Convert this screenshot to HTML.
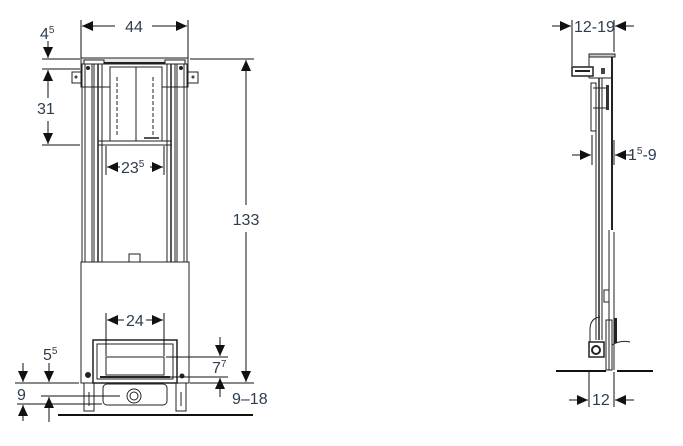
<!DOCTYPE html>
<html><head><meta charset="utf-8"><style>
html,body{margin:0;padding:0;background:#fff;}
svg{display:block;}
text{font-family:"Liberation Sans",sans-serif;font-size:16px;fill:#2e3d4f;}
</style></head><body>
<svg width="683" height="446" viewBox="0 0 683 446" xmlns="http://www.w3.org/2000/svg">
<defs>
<marker id="a" markerUnits="userSpaceOnUse" markerWidth="12" markerHeight="11" refX="11" refY="5" orient="auto-start-reverse"><path d="M0,0 L11,5 L0,10 z" fill="#111"/></marker>
</defs>
<!-- front frame -->
<g stroke="#222" stroke-width="1" fill="none">
<rect x="81" y="58" width="107" height="6" fill="#e8e8e8"/>
<rect x="84" y="60" width="20" height="4" fill="#fff"/><rect x="165" y="60" width="20" height="4" fill="#fff"/>
<line x1="104" y1="63" x2="165" y2="63" stroke-width="2"/>
<rect x="72" y="72" width="9" height="11" fill="#fff"/><rect x="188" y="72" width="10" height="11" fill="#fff"/>
<circle cx="76" cy="77" r="1"/><circle cx="193" cy="77" r="1"/>
<rect x="81" y="64" width="107" height="23"/>
<rect x="110" y="67" width="52" height="74" fill="#fff"/>
<line x1="136" y1="67" x2="136" y2="141"/>
<line x1="117" y1="77" x2="117" y2="137" stroke-dasharray="4,2"/>
<line x1="153" y1="77" x2="153" y2="137" stroke-dasharray="4,2"/>
<rect x="144" y="137" width="15" height="2" fill="#555" stroke="none"/>
<line x1="98" y1="141" x2="172" y2="141"/><line x1="98" y1="145" x2="172" y2="145"/>
<line x1="82" y1="64" x2="82" y2="262"/><line x1="85" y1="64" x2="85" y2="262"/>
<line x1="92" y1="64" x2="92" y2="262"/><line x1="94" y1="64" x2="94" y2="262"/>
<line x1="98" y1="64" x2="98" y2="262" stroke-width="1.5"/><line x1="102" y1="64" x2="102" y2="262"/>
<line x1="167" y1="64" x2="167" y2="262"/><line x1="171" y1="64" x2="171" y2="262" stroke-width="1.5"/>
<line x1="175" y1="64" x2="175" y2="262"/><line x1="177" y1="64" x2="177" y2="262"/>
<line x1="184" y1="64" x2="184" y2="262"/><line x1="187" y1="64" x2="187" y2="262"/>
<circle cx="88" cy="68" r="1.5" fill="#222"/><circle cx="181" cy="68" r="1.5" fill="#222"/>
<rect x="129" y="254" width="11" height="8" fill="#fff"/>
<rect x="81" y="262" width="108" height="121" fill="#fff"/>
<rect x="93" y="340" width="84" height="43" fill="#fff" stroke-width="1.5"/>
<rect x="97" y="344" width="76" height="35"/>
<rect x="106" y="357" width="58" height="18"/>
<line x1="100" y1="377" x2="170" y2="377" stroke-width="2"/>
<circle cx="88" cy="375" r="2.5" fill="#222"/><circle cx="182" cy="376" r="2" fill="#222"/>
<rect x="84" y="383" width="10" height="28"/><rect x="176" y="383" width="10" height="28"/>
<line x1="89" y1="392" x2="89" y2="406"/><line x1="181" y1="392" x2="181" y2="406"/>
<rect x="103" y="384" width="64" height="21" rx="4"/>
<circle cx="134" cy="396" r="7"/><circle cx="134" cy="396" r="4"/>
</g>
<g stroke="#111" stroke-width="1" fill="none">
<!-- 44 -->
<line x1="81" y1="20" x2="81" y2="58"/><line x1="188" y1="20" x2="188" y2="58"/>
<line x1="115" y1="26" x2="82" y2="26" marker-end="url(#a)"/>
<line x1="152" y1="26" x2="187" y2="26" marker-end="url(#a)"/>
<!-- 4.5 / 31 -->
<line x1="42" y1="59" x2="80" y2="59"/><line x1="42" y1="69" x2="80" y2="69"/><line x1="42" y1="145" x2="80" y2="145"/>
<line x1="48" y1="41" x2="48" y2="58" marker-end="url(#a)"/>
<line x1="48" y1="98" x2="48" y2="70" marker-end="url(#a)"/>
<line x1="48" y1="121" x2="48" y2="144" marker-end="url(#a)"/>
<!-- 133 -->
<line x1="190" y1="59" x2="254" y2="59"/>
<line x1="246" y1="205" x2="246" y2="60" marker-end="url(#a)"/>
<line x1="246" y1="232" x2="246" y2="382" marker-end="url(#a)"/>
<!-- 23.5 -->
<line x1="106" y1="146" x2="106" y2="175"/><line x1="164" y1="146" x2="164" y2="175"/>
<line x1="120" y1="167" x2="107" y2="167" marker-end="url(#a)"/>
<line x1="150" y1="167" x2="163" y2="167" marker-end="url(#a)"/>
<!-- 24 -->
<line x1="106" y1="313" x2="106" y2="356"/><line x1="164" y1="313" x2="164" y2="356"/>
<line x1="124" y1="320" x2="107" y2="320" marker-end="url(#a)"/>
<line x1="146" y1="320" x2="163" y2="320" marker-end="url(#a)"/>
<!-- 7.7 -->
<line x1="166" y1="357" x2="228" y2="357"/><line x1="170" y1="377" x2="228" y2="377"/>
<line x1="220" y1="337" x2="220" y2="356" marker-end="url(#a)"/>
<line x1="220" y1="397" x2="220" y2="378" marker-end="url(#a)"/>
<!-- 9-18 -->
<line x1="190" y1="383" x2="254" y2="383"/>
<!-- 5.5 / 9 left -->
<line x1="15" y1="383" x2="79" y2="383"/>
<line x1="23" y1="363" x2="23" y2="382" marker-end="url(#a)"/>
<line x1="49" y1="363" x2="49" y2="382" marker-end="url(#a)"/>
<line x1="41" y1="396" x2="120" y2="396"/>
<line x1="17" y1="404" x2="102" y2="404"/>
<line x1="49" y1="422" x2="49" y2="397" marker-end="url(#a)"/>
<line x1="23" y1="421" x2="23" y2="405" marker-end="url(#a)"/>
<line x1="58" y1="415" x2="253" y2="415" stroke-width="2"/>
</g>
<!-- side view -->
<g stroke="#222" stroke-width="1" fill="none">
<rect x="589" y="54" width="26" height="3" fill="#ccc"/>
<line x1="589" y1="57" x2="589" y2="78"/>
<line x1="612" y1="57" x2="612" y2="230" stroke-width="2"/>
<rect x="572" y="67" width="21" height="9" fill="#fff" stroke-width="1.5"/>
<line x1="575" y1="71" x2="590" y2="71" stroke-width="2"/>
<rect x="601" y="68" width="4" height="6" fill="#444" stroke="none"/>
<line x1="589" y1="78" x2="612" y2="78"/>
<rect x="591" y="83" width="5" height="48"/>
<line x1="596" y1="83" x2="596" y2="340"/><line x1="599" y1="78" x2="599" y2="340" stroke-width="1.5"/>
<line x1="602" y1="78" x2="602" y2="340"/>
<line x1="593" y1="88" x2="608" y2="88"/><line x1="593" y1="108" x2="608" y2="108"/>
<rect x="606" y="85" width="3" height="25" fill="#333" stroke="none"/>
<line x1="614" y1="232" x2="614" y2="370"/><line x1="609" y1="230" x2="609" y2="370"/>
<rect x="604" y="290" width="5" height="12"/>
<path d="M600,317 Q590,318 590,330 L590,342"/>
<rect x="589" y="342" width="15" height="15" fill="#fff" stroke-width="1.5"/>
<circle cx="596" cy="350" r="4" stroke-width="2"/>
<rect x="606" y="320" width="6" height="50"/>
<rect x="614" y="318" width="3" height="25" fill="#222" stroke="none"/>
<path d="M612,345 Q620,340 630,342"/>
</g>
<g stroke="#111" stroke-width="1" fill="none">
<line x1="572" y1="20" x2="572" y2="66"/><line x1="614" y1="20" x2="614" y2="52"/>
<line x1="552" y1="26" x2="571" y2="26" marker-end="url(#a)"/>
<line x1="634" y1="26" x2="615" y2="26" marker-end="url(#a)"/>
<line x1="592" y1="135" x2="592" y2="165"/><line x1="614" y1="140" x2="614" y2="165"/>
<line x1="572" y1="155" x2="591" y2="155" marker-end="url(#a)"/>
<line x1="632" y1="155" x2="615" y2="155" marker-end="url(#a)"/>
<line x1="589" y1="372" x2="589" y2="407"/><line x1="614" y1="372" x2="614" y2="407"/>
<line x1="569" y1="400" x2="588" y2="400" marker-end="url(#a)"/>
<line x1="634" y1="400" x2="615" y2="400" marker-end="url(#a)"/>
<line x1="556" y1="371" x2="606" y2="371" stroke-width="2"/>
<line x1="617" y1="371" x2="653" y2="371" stroke-width="2"/>
</g>
<!-- labels -->
<text x="134" y="32" text-anchor="middle">44</text>
<text x="40" y="39">4<tspan dy="-6" font-size="10">5</tspan></text>
<text x="37" y="114">31</text>
<text x="246" y="225" text-anchor="middle">133</text>
<text x="121" y="173">23<tspan dy="-6" font-size="10">5</tspan></text>
<text x="126" y="326">24</text>
<text x="212" y="373">7<tspan dy="-6" font-size="10">7</tspan></text>
<text x="232" y="404">9–18</text>
<text x="43" y="360">5<tspan dy="-6" font-size="10">5</tspan></text>
<text x="17" y="400">9</text>
<text x="574" y="32">12-19</text>
<text x="628" y="160">1<tspan dy="-6" font-size="10">5</tspan><tspan dy="6">-9</tspan></text>
<text x="592" y="405">12</text>
</svg>
</body></html>
